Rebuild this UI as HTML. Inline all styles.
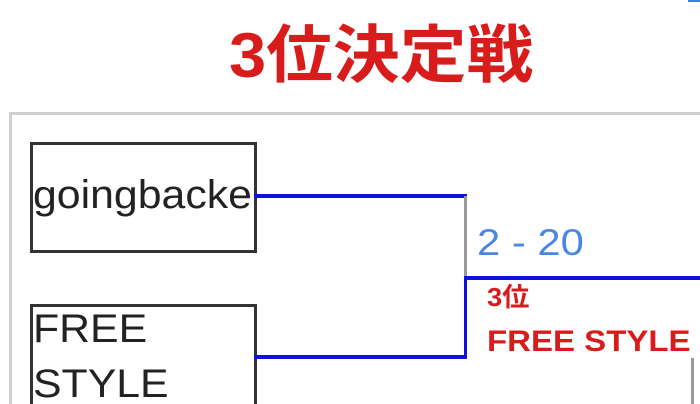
<!DOCTYPE html>
<html><head><meta charset="utf-8"><style>
html,body{margin:0;padding:0;width:700px;height:404px;overflow:hidden;background:#fff;position:relative;font-family:"Liberation Sans","Noto Sans CJK JP",sans-serif}
.a{position:absolute;transform-origin:0 0;white-space:nowrap}
</style></head><body>
<div class="a" style="left:688px;top:0;width:12px;height:2px;background:#3b7de0"></div>
<div class="a" style="left:229px;top:20px;font-size:63px;font-weight:bold;color:#d81c1c;line-height:72px;transform:scaleX(1.06)">3位決定戦</div>
<div class="a" style="left:9px;top:112px;width:700px;height:300px;border-top:3px solid #cfcfcf;border-left:3px solid #cfcfcf"></div>
<div class="a" style="left:30px;top:142px;width:221px;height:105px;border:3px solid #333"></div>
<div class="a" style="left:33px;top:172px;font-size:40px;line-height:46px;color:#222;transform:scaleX(1.07)">goingbacke</div>
<div class="a" style="left:30px;top:304px;width:221px;height:110px;border:3px solid #333"></div>
<div class="a" style="left:33px;top:302px;font-size:40px;line-height:55px;color:#222;transform:scaleX(1.07)">FREE<br>STYLE</div>
<div class="a" style="left:254px;top:194px;width:213px;height:4px;background:#1010dd"></div>
<div class="a" style="left:464px;top:196px;width:3px;height:82px;background:#999"></div>
<div class="a" style="left:254px;top:355px;width:213px;height:4px;background:#1010dd"></div>
<div class="a" style="left:464px;top:277px;width:3px;height:81px;background:#1010dd"></div>
<div class="a" style="left:464px;top:276px;width:236px;height:4px;background:#1010dd"></div>
<div class="a" style="left:477px;top:222px;font-size:37px;line-height:42px;color:#4a86e8;transform:scaleX(1.13)">2 - 20</div>
<div class="a" style="left:487px;top:281px;font-size:26px;font-weight:bold;line-height:32px;color:#d81c1c;transform:scaleX(1.05)">3位</div>
<div class="a" style="left:487px;top:324px;font-size:30px;font-weight:bold;line-height:36px;color:#d81c1c;transform:scaleX(1.1)">FREE STYLE</div>
<div class="a" style="left:691px;top:358px;width:3px;height:46px;background:#999"></div>
</body></html>
